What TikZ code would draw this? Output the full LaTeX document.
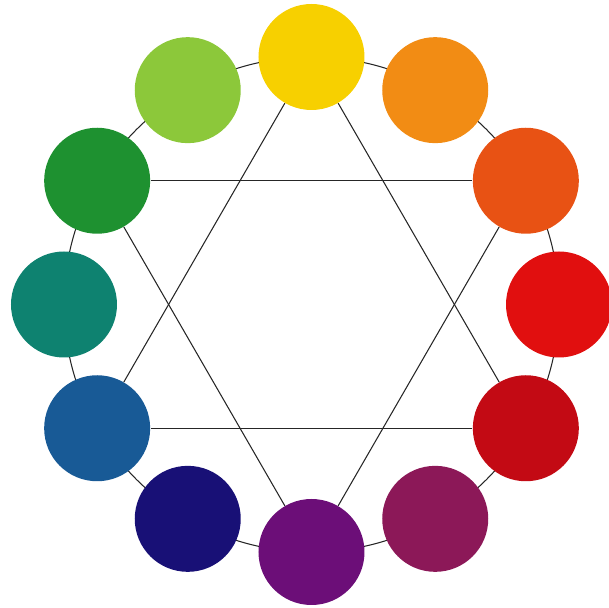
\documentclass[tikz,border=0pt]{standalone}
\usepackage{xcolor}
\usepackage{tikz}

\definecolor{cyellow}{RGB}{247,208,0}
\definecolor{corange}{RGB}{242,140,20}
\definecolor{credorange}{RGB}{232,82,20}
\definecolor{cred}{RGB}{225,15,15}
\definecolor{cdarkred}{RGB}{195,10,20}
\definecolor{cmagenta}{RGB}{140,24,88}
\definecolor{cpurple}{RGB}{108,14,120}
\definecolor{cindigo}{RGB}{24,16,118}
\definecolor{cblue}{RGB}{24,90,150}
\definecolor{cteal}{RGB}{14,130,112}
\definecolor{cgreen}{RGB}{30,145,48}
\definecolor{cygreen}{RGB}{140,200,58}

\begin{document}
\begin{tikzpicture}
\tikzset{
  disc/.style={circle, minimum size=2.12cm, inner sep=0pt},
  link/.style={line width=0.6pt, black!85},
}
\useasboundingbox (-6.23,-6.07) rectangle (5.95,6.09);
\coordinate (o) at (0,0);
\draw[link] (o) circle (4.95);
\node[disc, fill=cyellow] (yel) at (90:4.95) {};
\node[disc, fill=corange] (ora) at (60:4.95) {};
\node[disc, fill=credorange] (rora) at (30:4.95) {};
\node[disc, fill=cred] (red) at (0:4.95) {};
\node[disc, fill=cdarkred] (dred) at (-30:4.95) {};
\node[disc, fill=cmagenta] (mag) at (-60:4.95) {};
\node[disc, fill=cpurple] (pur) at (-90:4.95) {};
\node[disc, fill=cindigo] (ind) at (-120:4.95) {};
\node[disc, fill=cblue] (blu) at (-150:4.95) {};
\node[disc, fill=cteal] (tea) at (180:4.95) {};
\node[disc, fill=cgreen] (gre) at (150:4.95) {};
\node[disc, fill=cygreen] (ygre) at (120:4.95) {};
\draw[link] (yel) -- (dred);
\draw[link] (dred) -- (blu);
\draw[link] (blu) -- (yel);
\draw[link] (gre) -- (rora);
\draw[link] (rora) -- (pur);
\draw[link] (pur) -- (gre);
\end{tikzpicture}
\end{document}
